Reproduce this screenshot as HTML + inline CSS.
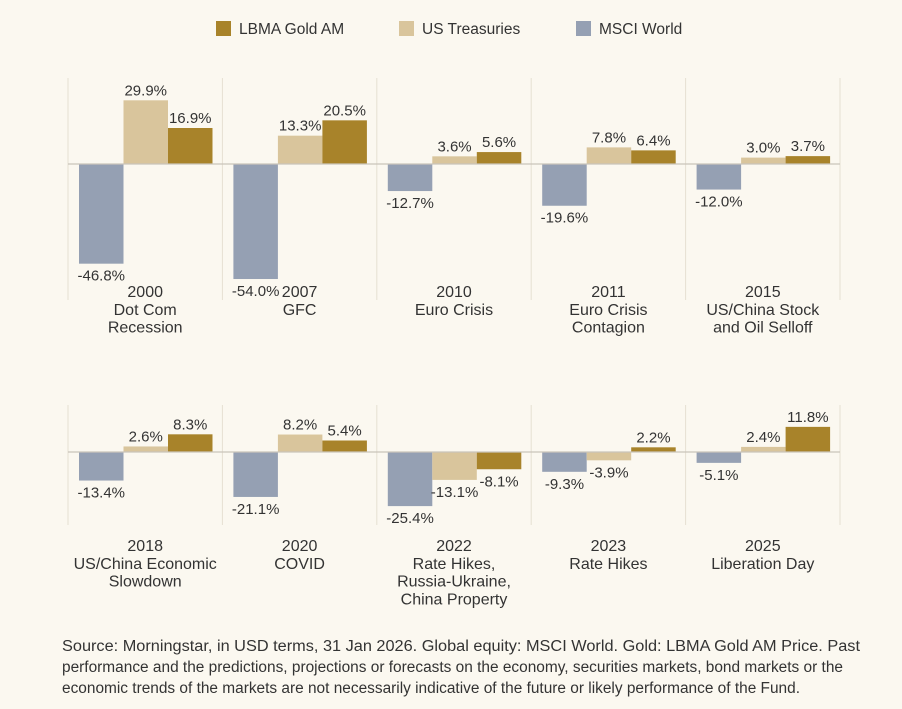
<!DOCTYPE html>
<html><head><meta charset="utf-8"><style>
body{margin:0;background:#fbf8f0;font-family:"Liberation Sans",sans-serif;}
svg text{font-family:"Liberation Sans",sans-serif;}
</style></head><body>
<svg id="c" width="902" height="704">
<rect width="902" height="704" fill="#fbf8f0"/>
<g>
<rect x="216" y="21" width="15" height="15" fill="#a8832a"/>
<text x="239" y="34" font-size="15.5" fill="#333">LBMA Gold AM</text>
<rect x="399" y="21" width="15" height="15" fill="#d9c59c"/>
<text x="422" y="34" font-size="15.5" fill="#333">US Treasuries</text>
<rect x="576" y="21" width="15" height="15" fill="#95a0b3"/>
<text x="599" y="34" font-size="15.5" fill="#333">MSCI World</text>
</g>
<g id="plot"></g>
<g font-size="15.5" fill="#333">
<text x="62" y="651" textLength="798" lengthAdjust="spacingAndGlyphs">Source: Morningstar, in USD terms, 31 Jan 2026. Global equity: MSCI World. Gold: LBMA Gold AM Price. Past</text>
<text x="62" y="672" textLength="781" lengthAdjust="spacingAndGlyphs">performance and the predictions, projections or forecasts on the economy, securities markets, bond markets or the</text>
<text x="62" y="693" textLength="738" lengthAdjust="spacingAndGlyphs">economic trends of the markets are not necessarily indicative of the future or likely performance of the Fund.</text>
</g>
</svg>
<script>
const categories=[["2000","Dot Com","Recession"],["2007","GFC"],["2010","Euro Crisis"],["2011","Euro Crisis","Contagion"],["2015","US/China Stock","and Oil Selloff"],
["2018","US/China Economic","Slowdown"],["2020","COVID"],["2022","Rate Hikes,","Russia-Ukraine,","China Property"],["2023","Rate Hikes"],["2025","Liberation Day"]];
const msci=[-46.8,-54.0,-12.7,-19.6,-12.0,-13.4,-21.1,-25.4,-9.3,-5.1];
const treasuries=[29.9,13.3,3.6,7.8,3.0,2.6,8.2,-13.1,-3.9,2.4];
const gold=[16.9,20.5,5.6,6.4,3.7,8.3,5.4,-8.1,2.2,11.8];
const NS="http://www.w3.org/2000/svg";
const g=document.getElementById('plot');
const k=2.13;
const rows=[{zero:164,top:78,bot:300,lab:292},{zero:452,top:405,bot:525,lab:546}];
function mk(t,a){const e=document.createElementNS(NS,t);for(const x in a)e.setAttribute(x,a[x]);g.appendChild(e);return e;}
function yS(r,v){return rows[r].zero-v*k;}
const x0=68,pw=154.4,bw=44.5;
for(let r=0;r<2;r++){
  for(let j=0;j<=5;j++){
    const s=mk('line',{x1:x0+j*pw,x2:x0+j*pw,y1:rows[r].top,y2:rows[r].bot,stroke:'#e6e0d2','stroke-width':1});
    
    
  }
}
const series=[[msci,'#95a0b3','msci'],[treasuries,'#d9c59c','treasuries'],[gold,'#a8832a','gold']];
categories.forEach((cat,i)=>{
  const r=i<5?0:1, p=i%5, px=x0+p*pw;
  series.forEach(([arr,col,nm],s)=>{
    const v=arr[i],x=px+11+s*bw,y0=rows[r].zero,y=yS(r,v);
    const b=mk('rect',{x:x,y:Math.min(y,y0),width:bw,height:Math.abs(y-y0),fill:col});
    
    
    const t=mk('text',{x:x+bw/2,y:v>=0?y-5:y+17,'text-anchor':'middle','font-size':15,fill:'#333'});
    t.textContent=v.toFixed(1)+'%';
    
    
  });
  cat.forEach((line,li)=>{
    const t=mk('text',{x:px+pw/2,y:rows[r].lab+li*17.8+5,'text-anchor':'middle','font-size':16,fill:'#333'});
    t.textContent=line;
    
    
  });
});
for(let r=0;r<2;r++){
  const z=mk('line',{x1:x0,x2:x0+5*pw,y1:rows[r].zero,y2:rows[r].zero,stroke:'#c9c4ba','stroke-width':1.2});
  
  
}
</script>
</body></html>
